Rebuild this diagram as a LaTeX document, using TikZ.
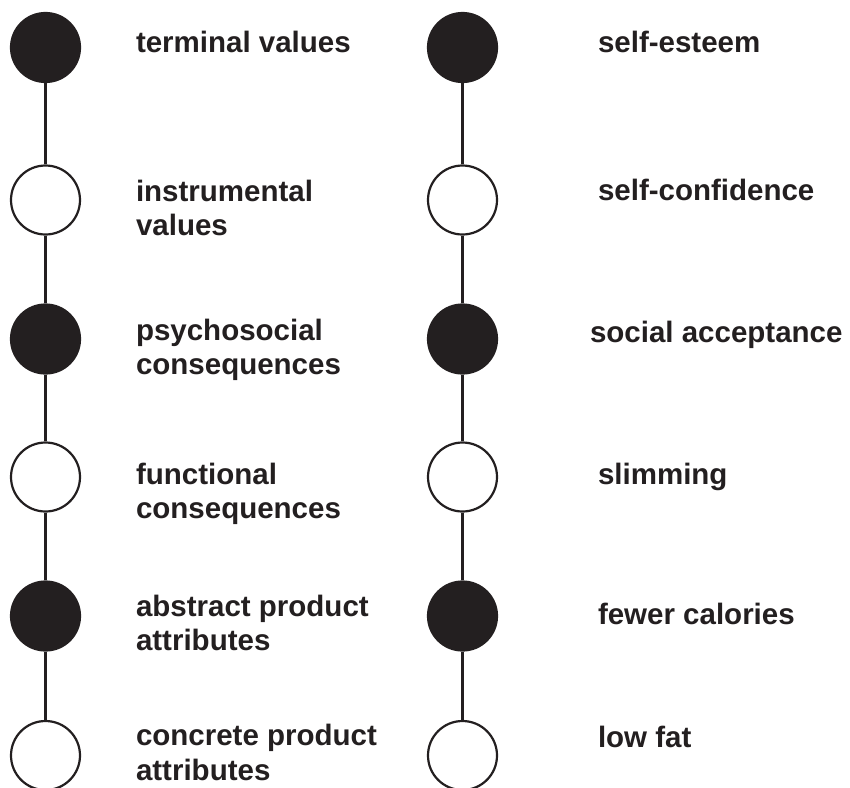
\documentclass[tikz,border=0pt]{standalone}
\usepackage{fontspec}
\setmainfont{Liberation Sans}
\definecolor{ink}{HTML}{231F20}
% two stacked lines whose baseline is that of the first line
\newcommand\twolines[2]{\vtop{\hbox{#1}\hbox{#2}}}
\begin{document}
\begin{tikzpicture}[x=1pt,y=-1pt,
  stage/.style={circle, draw=ink, line width=2.2pt, minimum size=69pt, inner sep=0pt},
  filled/.style={stage, fill=ink},
  hollow/.style={stage, fill=white},
  lbl/.style={anchor=base west, inner sep=0pt, outer sep=0pt, text=ink,
              font=\fontsize{29.5}{34.5}\selectfont\bfseries},
  link/.style={draw=ink, line width=2.2pt}]
\useasboundingbox (0,0) rectangle (850,787);
\clip (0,0) rectangle (850,787);

% left ladder: levels of abstraction
\node[filled] (L1) at (45.5,47.5) {};
\node[hollow] (L2) at (45.5,200) {};
\node[filled] (L3) at (45.5,339) {};
\node[hollow] (L4) at (45.5,477) {};
\node[filled] (L5) at (45.5,616) {};
\node[hollow] (L6) at (45.5,755.5) {};

% right ladder: example chain
\node[filled] (R1) at (462.5,47.5) {};
\node[hollow] (R2) at (462.5,200) {};
\node[filled] (R3) at (462.5,339) {};
\node[hollow] (R4) at (462.5,477) {};
\node[filled] (R5) at (462.5,616) {};
\node[hollow] (R6) at (462.5,755.5) {};

\foreach \a/\b in {L1/L2,L2/L3,L3/L4,L4/L5,L5/L6,R1/R2,R2/R3,R3/R4,R4/R5,R5/R6}
  \draw[link] (\a) -- (\b);

% left labels
\node[lbl] (tL1) at (136,52)  {terminal values};
\node[lbl] (tL2) at (136,201) {\twolines{instrumental}{values}};
\node[lbl] (tL3) at (136,340) {\twolines{psychosocial}{consequences}};
\node[lbl] (tL4) at (136,484) {\twolines{functional}{consequences}};
\node[lbl] (tL5) at (136,616) {\twolines{abstract product}{attributes}};
\node[lbl] (tL6) at (136,745.5) {\twolines{concrete product}{attributes}};

% right labels
\node[lbl] (tR1) at (598,52)  {self-esteem};
\node[lbl] (tR2) at (598,200) {self-confidence};
\node[lbl] (tR3) at (590,342) {social acceptance};
\node[lbl] (tR4) at (598,484) {slimming};
\node[lbl] (tR5) at (598,624) {fewer calories};
\node[lbl] (tR6) at (598,747) {low fat};
\end{tikzpicture}
\end{document}
